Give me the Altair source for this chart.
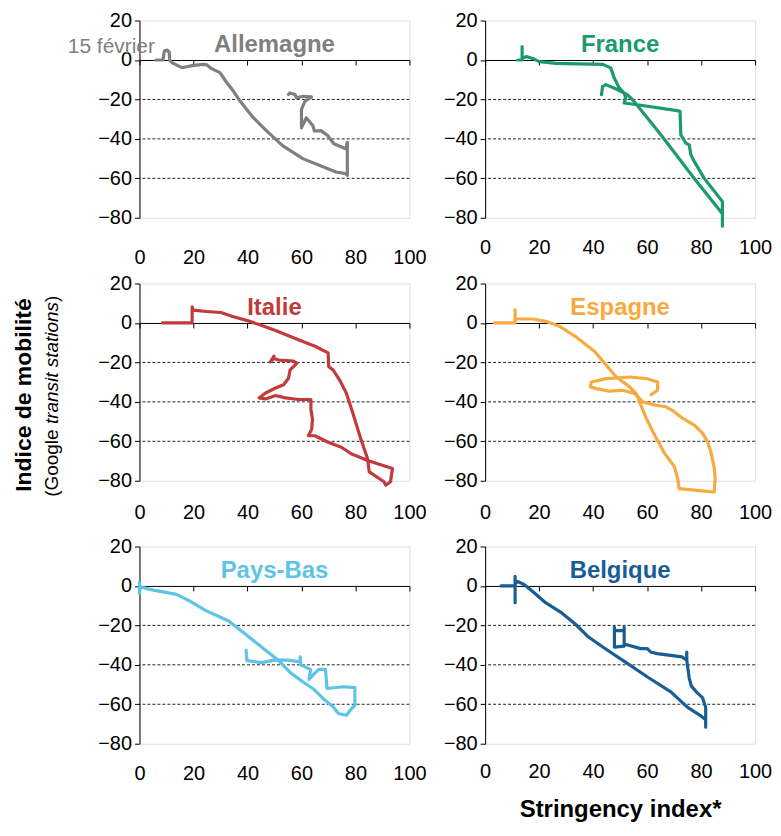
import altair as alt
import pandas as pd

FONT = "Liberation Sans"
W, H = 271, 198

countries = ["Allemagne", "France", "Italie", "Espagne", "Pays-Bas", "Belgique"]
colors = ["#7f7f7f", "#1a9a6e", "#c23a3b", "#f8a940", "#5ec4e6", "#185d96"]
x_ticks = [0, 20, 40, 60, 80, 100]
y_ticks = [20, 0, -20, -40, -60, -80]
grid_vals = [-20, -40, -60]

de_x = [6.1, 8.7, 9.2, 10.3, 11.0, 11.2, 12.0, 15.7, 20.0, 23.7, 25.0, 26.7, 29.8, 32.3, 34.7, 37.2, 42.0, 47.0,
        53.0, 60.5, 66.6, 72.8, 76.4, 77.0, 77.0, 76.4, 72.0, 69.7, 67.2, 64.8, 64.3, 61.8, 60.0, 60.0, 61.3, 63.7,
        60.6, 58.2, 57.6, 55.7, 55.2]
de_y = [0, 0, 4.5, 5.0, 4.0, 0, -1.3, -3.9, -2.7, -2.2, -2.5, -4.4, -6.4, -11.4, -15.6, -20.7, -29.0, -35.8,
        -43.4, -50.0, -53.4, -56.8, -57.6, -58.5, -41.7, -45.0, -42.5, -38.3, -35.8, -36.0, -33.5, -29.3, -34.4,
        -25.1, -20.9, -18.7, -18.4, -19.2, -17.5, -16.7, -17.5]

fr_x = [12.1, 13.7, 13.7, 13.7, 15.2, 17.7, 20.0, 26.3, 35.0, 43.6, 46.5, 47.8, 49.6, 51.5, 52.1, 51.5, 56.4,
        71.1, 72.2, 72.5, 74.3, 75.6, 76.2, 77.4, 81.1, 87.9, 87.9, 87.9, 77.4, 65.1, 55.2, 52.7, 49.0, 44.7,
        43.5, 43.1]
fr_y = [0, 0, 6.8, 1.0, 1.7, 0.8, -0.8, -1.7, -2.0, -2.2, -4.0, -9.0, -14.0, -16.8, -19.3, -21.8, -22.7,
        -25.7, -26.0, -37.9, -42.1, -43.0, -48.0, -51.3, -59.9, -71.7, -84.3, -78.0, -59.9, -37.9, -21.0, -17.6,
        -15.0, -12.5, -13.4, -17.6]

it_x = [8.5, 19.5, 19.5, 19.9, 24.8, 30.2, 34.5, 40.0, 44.3, 50.4, 58.9, 65.0, 69.9, 70.1, 71.7, 74.1, 76.6,
        79.0, 82.0, 84.5, 85.1, 90.6, 91.2, 93.0, 93.7, 84.5, 78.4, 74.8, 69.9, 65.0, 62.6, 63.8, 64.1, 63.5,
        63.5, 58.9, 54.0, 50.4, 46.7, 44.3, 46.7, 50.4, 53.4, 55.2, 55.8, 58.3, 57.0, 51.6, 49.8, 48.5, 49.8]
it_y = [0, 0, 8.2, 6.5, 5.8, 5.3, 3.3, 1.2, -0.8, -3.8, -8.5, -11.8, -15.2, -22.2, -23.8, -28.8, -35.5,
        -45.5, -58.8, -68.8, -75.5, -80.5, -82.2, -80.5, -73.8, -69.7, -66.3, -63.0, -60.5, -57.2, -57.2, -53.8,
        -48.8, -43.8, -38.8, -38.8, -38.0, -36.8, -38.5, -38.0, -35.5, -33.0, -31.3, -28.0, -23.8, -20.5, -19.3,
        -18.8, -18.0, -19.7, -16.8]

es_x = [3.4, 11.1, 11.1, 11.1, 17.8, 22.8, 27.7, 33.8, 40.6, 44.9, 48.6, 53.5, 56.0, 57.2, 59.7, 63.4, 66.4,
        70.1, 71.3, 71.9, 79.3, 84.9, 85.2, 84.9, 83.6, 82.4, 80.6, 77.5, 73.2, 70.1, 67.0, 63.3, 58.4, 56.6,
        55.4, 51.0, 46.1, 41.2, 39.0, 39.4, 44.9, 53.5, 59.7, 63.9, 63.9, 61.5]
es_y = [0, 0, 6.7, 2.0, 2.0, 0.7, -1.8, -7.2, -14.5, -21.5, -27.4, -32.4, -35.8, -40.0, -48.4, -58.5, -66.0,
        -72.8, -78.7, -84.0, -85.0, -85.7, -78.7, -73.6, -65.2, -60.2, -56.0, -51.8, -48.4, -45.0, -42.5, -41.7,
        -40.0, -37.5, -35.8, -34.1, -34.6, -33.3, -32.4, -29.9, -28.2, -27.4, -28.2, -29.9, -34.1, -36.3]

nl_x = [0, 0, 0.3, 5.2, 13.7, 18.5, 24.6, 33.0, 39.2, 45.2, 51.3, 56.1, 61.0, 64.6, 68.2, 71.8, 73.7, 76.7,
        78.5, 79.8, 79.8, 75.5, 69.5, 68.9, 66.4, 64.6, 62.8, 63.4, 61.5, 59.8, 59.5, 59.5, 55.0, 50.0, 45.2,
        39.8, 39.5]
nl_y = [2.0, -3.8, -0.5, -2.1, -4.3, -7.6, -12.5, -17.8, -24.4, -31.0, -37.6, -44.2, -49.1, -52.4, -57.3,
        -61.4, -64.7, -65.6, -62.3, -60.6, -51.6, -51.1, -52.0, -42.3, -42.3, -44.7, -47.4, -42.3, -41.2, -40.0,
        -35.9, -38.5, -37.6, -37.6, -38.9, -37.9, -32.6]

be_x = [5.9, 11.1, 11.1, 11.1, 11.1, 12.0, 14.4, 17.5, 22.4, 28.5, 33.4, 38.3, 44.4, 51.7, 60.3, 68.8, 75.0,
        79.8, 81.7, 81.7, 81.7, 80.5, 78.6, 76.4, 75.6, 74.7, 74.7, 74.7, 72.9, 63.7, 61.3, 60.1, 57.6, 51.5,
        51.5, 51.5, 47.9, 47.9, 47.9, 51.5]
be_y = [0, 0, 4.8, -8.5, 1.0, 2.3, 0.7, -2.7, -8.5, -13.8, -19.3, -25.9, -31.7, -38.4, -46.3, -53.7, -61.6,
        -65.8, -67.9, -71.6, -61.6, -56.6, -54.2, -50.8, -46.7, -37.6, -33.5, -37.6, -36.0, -34.3, -33.5, -31.8,
        -31.8, -29.4, -21.0, -22.7, -22.7, -21.0, -31.0, -30.5]

series_x = [de_x, fr_x, it_x, es_x, nl_x, be_x]
series_y = [de_y, fr_y, it_y, es_y, nl_y, be_y]
label_pads = [30, 20, 22, 22, 20, 18]

xscale = alt.Scale(domain=[0, 100], nice=False, zero=False)
yscale = alt.Scale(domain=[-80, 20], nice=False, zero=False)
zero_off = H * 0.8


def make_panel(idx, xtitle=None):
    name = countries[idx]
    color = colors[idx]
    df = pd.DataFrame({"x": series_x[idx], "y": series_y[idx], "i": list(range(len(series_x[idx])))})
    xk = dict(values=x_ticks, offset=-zero_off, domainColor="black", domainWidth=1, tickColor="black",
              tickSize=5, tickWidth=1, labelPadding=zero_off + label_pads[idx] - 5, labelFontSize=20,
              labelFont=FONT, labelColor="black", labelFlush=False, labelOverlap=False, grid=False)
    if xtitle:
        xk.update(title=xtitle, titleFont=FONT, titleFontSize=24, titleFontWeight="bold",
                  titleColor="black", titlePadding=16)
    else:
        xk.update(title=None)
    yk = dict(values=y_ticks, domainColor="black", domainWidth=1, tickColor="black", tickSize=5,
              tickWidth=1, labelPadding=3, labelFontSize=20, labelFont=FONT, labelColor="black",
              labelOverlap=False, grid=False, title=None)

    grid = alt.Chart(pd.DataFrame({"g": grid_vals})).mark_rule(
        color="#222", strokeWidth=1, strokeDash=[3, 2]
    ).encode(y=alt.Y("g:Q", scale=yscale, axis=alt.Axis(**yk)))

    line = alt.Chart(df).mark_line(
        color=color, strokeWidth=3.2, strokeJoin="round", strokeCap="round"
    ).encode(
        x=alt.X("x:Q", scale=xscale, axis=alt.Axis(**xk)),
        y=alt.Y("y:Q", scale=yscale, axis=alt.Axis(**yk)),
        order="i:Q",
    )

    title = alt.Chart(pd.DataFrame({"t": [name]})).mark_text(
        font=FONT, fontSize=24, fontWeight="bold", color=color, align="center", baseline="alphabetic"
    ).encode(x=alt.value(W / 2), y=alt.value(32), text="t:N")

    layers = [grid, line, title]

    if idx == 0:
        ann = alt.Chart(pd.DataFrame({"x": [de_x[0]], "y": [de_y[0]], "t": ["15 février"]})).mark_text(
            font=FONT, fontSize=21, color="#808080", align="right", baseline="alphabetic", dx=-1, dy=-7
        ).encode(x=alt.X("x:Q", scale=xscale, axis=alt.Axis(**xk)),
                 y=alt.Y("y:Q", scale=yscale, axis=alt.Axis(**yk)), text="t:N")
        layers.append(ann)

    if idx == 2:
        t1 = alt.Chart(pd.DataFrame({"t": ["Indice de mobilité"]})).mark_text(
            font=FONT, fontSize=23, fontWeight="bold", color="black", angle=270, align="center",
            baseline="middle"
        ).encode(x=alt.value(-116), y=alt.value(112), text="t:N")
        t2 = alt.Chart(pd.DataFrame({"t": ["(Google"]})).mark_text(
            font=FONT, fontSize=19, color="black", angle=270, align="left", baseline="middle"
        ).encode(x=alt.value(-88), y=alt.value(214), text="t:N")
        t3 = alt.Chart(pd.DataFrame({"t": ["transit stations"]})).mark_text(
            font=FONT, fontSize=19, fontStyle="italic", color="black", angle=270, align="left",
            baseline="middle"
        ).encode(x=alt.value(-88), y=alt.value(141), text="t:N")
        t4 = alt.Chart(pd.DataFrame({"t": [")"]})).mark_text(
            font=FONT, fontSize=19, color="black", angle=270, align="left", baseline="middle"
        ).encode(x=alt.value(-88), y=alt.value(18.5), text="t:N")
        layers += [t1, t2, t3, t4]

    return alt.layer(*layers).properties(width=W, height=H)


panels = [make_panel(i, "Stringency index*" if i == 5 else None) for i in range(6)]

chart = alt.concat(
    *panels, columns=2, spacing={"row": 66, "column": 76}, bounds="flush"
).properties(
    padding={"left": 4, "top": 0, "right": 0, "bottom": 0}
).configure_view(
    stroke="#7f7f7f", strokeWidth=1
).configure(font=FONT)

chart.save("out.html", embed_options={"renderer": "svg", "actions": False})
